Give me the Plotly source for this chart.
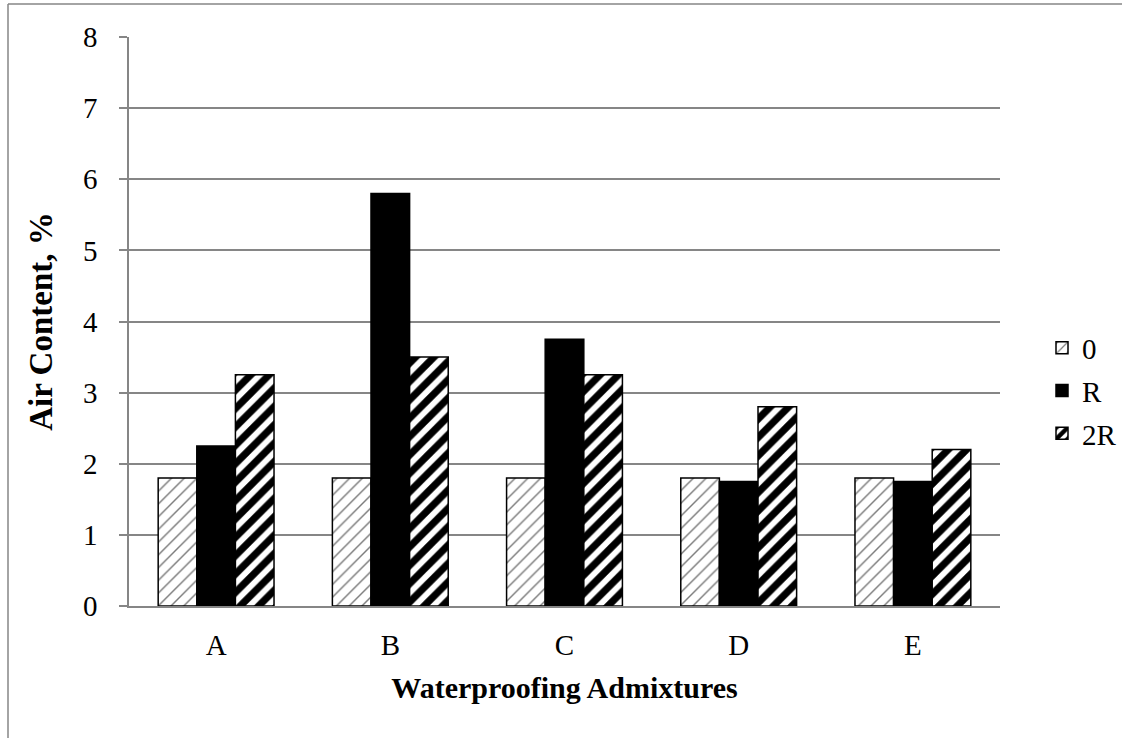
import plotly.graph_objects as go

categories = ["A", "B", "C", "D", "E"]
series_names = ["0", "R", "2R"]
vals_0 = [1.8, 1.8, 1.8, 1.8, 1.8]
vals_R = [2.25, 5.8, 3.75, 1.75, 1.75]
vals_2R = [3.25, 3.5, 3.25, 2.8, 2.2]
y_ticks = [0, 1, 2, 3, 4, 5, 6, 7, 8]

FONT = "Liberation Serif, Times New Roman, serif"
FS = 29
W, H = 1122, 738
L, R, T, B = 129, 122, 37, 132
pw, ph = W - L - R, H - T - B

fig = go.Figure()
fig.add_trace(go.Bar(
    x=categories, y=vals_0, name=series_names[0], legendgroup="a",
    marker=dict(color="white", line=dict(color="black", width=1.5),
                pattern=dict(shape="/", fgcolor="#333333", bgcolor="white",
                             size=9, solidity=0.16, fgopacity=0.65)),
))
fig.add_trace(go.Bar(
    x=categories, y=vals_R, name=series_names[1], legendgroup="b",
    marker=dict(color="black", line=dict(color="black", width=1.5)),
))
fig.add_trace(go.Bar(
    x=categories, y=vals_2R, name=series_names[2], legendgroup="c",
    marker=dict(color="white", line=dict(color="black", width=1.5),
                pattern=dict(shape="/", fgcolor="black", bgcolor="white",
                             size=13, solidity=0.55, fgopacity=1)),
))


def px_x(p):
    return (p - L) / pw


def px_y(p):
    return 1 - (p - T) / ph


fig.update_layout(
    width=W, height=H,
    margin=dict(l=L, r=R, t=T, b=B, autoexpand=False),
    paper_bgcolor="white", plot_bgcolor="white",
    barmode="group", bargap=0.335, bargroupgap=0,
    font=dict(family=FONT, size=FS, color="black"),
    showlegend=True,
    legend=dict(x=px_x(1042), y=px_y(391), xanchor="left", yanchor="middle",
                font=dict(family=FONT, size=FS), itemwidth=30,
                tracegroupgap=2, bgcolor="rgba(0,0,0,0)"),
    xaxis=dict(
        title=dict(text="<b>Waterproofing Admixtures</b>", font=dict(size=30), standoff=17),
        showgrid=False, showline=True, linecolor="#868686", linewidth=1.5,
        ticks="", tickfont=dict(size=FS), ticklabelstandoff=12,
    ),
    yaxis=dict(
        title=dict(text="<b>Air Content, %</b>", font=dict(size=33), standoff=20),
        range=[0, 8], tickvals=y_ticks, ticks="outside", ticklen=8,
        tickcolor="#868686", tickwidth=1.5,
        showgrid=True, gridcolor="#868686", gridwidth=1.5,
        showline=True, linecolor="#868686", linewidth=1.5,
        zeroline=False, tickfont=dict(size=FS), ticklabelstandoff=16,
    ),
    shapes=[
        dict(type="line", xref="paper", yref="paper",
             x0=px_x(8), x1=px_x(1122), y0=px_y(4), y1=px_y(4),
             line=dict(color="#868686", width=1.5)),
        dict(type="line", xref="paper", yref="paper",
             x0=px_x(8), x1=px_x(8), y0=px_y(4), y1=px_y(738),
             line=dict(color="#868686", width=1.5)),
    ],
)

fig.write_html("out.html", config={"displayModeBar": False},
               post_script="document.body.style.margin='0';")
